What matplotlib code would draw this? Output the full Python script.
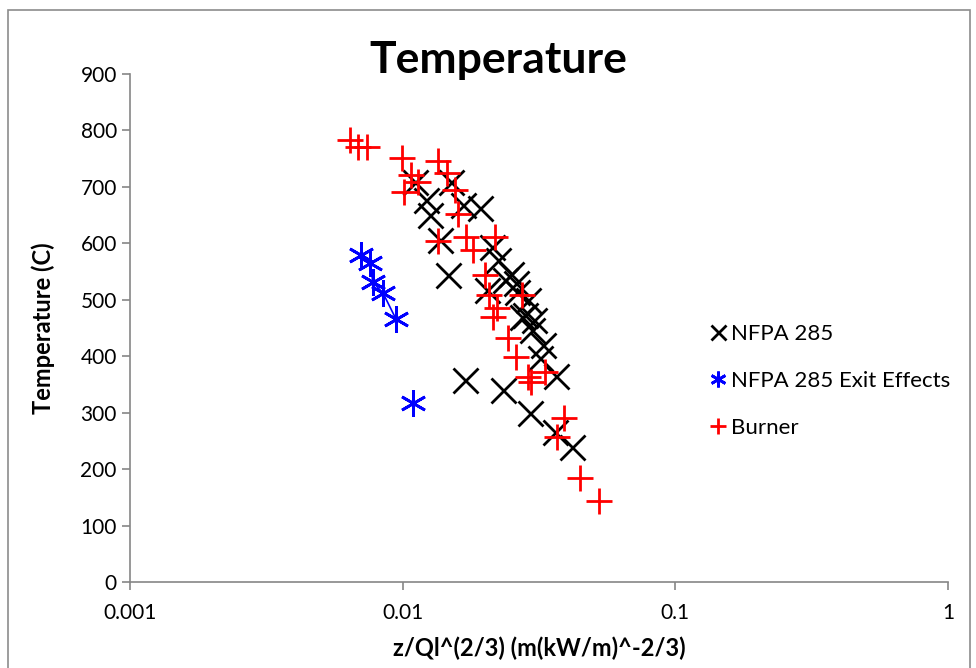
import numpy as np
import matplotlib
matplotlib.use("Agg")
import matplotlib.pyplot as plt
from matplotlib.patches import Rectangle

plt.rcParams['font.family'] = ['Lato', 'DejaVu Sans']

# NFPA 285 (black x)
nfpa_x = [0.0111, 0.0150, 0.0122, 0.0126, 0.0137, 0.0166, 0.0192, 0.0147,
          0.0213, 0.0224, 0.0204, 0.0237, 0.0260, 0.0263, 0.0288, 0.0281,
          0.0303, 0.0298, 0.0327, 0.0319, 0.0169, 0.0233, 0.0293, 0.0365,
          0.0362, 0.0418, 0.0250, 0.0275]
nfpa_y = [709, 709, 677, 650, 606, 668, 662, 544,
          594, 570, 517, 535, 530, 514, 500, 473,
          465, 447, 420, 397, 358, 340, 299, 365,
          266, 239, 545, 470]

# NFPA 285 exit effects (blue asterisk)
exit_x = [0.00703, 0.00759, 0.00778, 0.00847, 0.00945, 0.0109]
exit_y = [579, 565, 531, 512, 466, 317]

# Burner (red plus)
burner_x = [0.00641, 0.00686, 0.00740, 0.00994, 0.01346, 0.01072, 0.01138, 0.01011,
            0.01453, 0.01556, 0.01596, 0.01346, 0.01706, 0.02180, 0.01811, 0.02004,
            0.02072, 0.02737, 0.02218, 0.02143, 0.02432, 0.02602, 0.02879, 0.02954,
            0.03326, 0.03906, 0.03683, 0.04467, 0.05248]
burner_y = [783, 771, 771, 751, 746, 721, 709, 691,
            725, 695, 652, 604, 611, 611, 588, 544,
            508, 508, 485, 470, 432, 399, 363, 354,
            372, 291, 257, 184, 144]

fig = plt.figure(figsize=(9.76, 6.68), dpi=100)
fig.patches.append(Rectangle((8/976, -0.01), 962/976, 1-10/668+0.01, transform=fig.transFigure,
                             fill=False, edgecolor='#8c8c8c', lw=1.2))
ax = fig.add_axes([0.1332, 0.1287, 0.8381, 0.7605])

gray = '#868686'
ax.plot(exit_x[:5], exit_y[:5], color='blue', lw=1.2, zorder=2)
ax.plot(nfpa_x, nfpa_y, ls='none', marker='x', ms=18, mew=2, color='black', label='NFPA 285', zorder=3)
ax.plot(exit_x, exit_y, ls='none', marker=(6, 2, 0), ms=19, mew=2, color='blue',
        label='NFPA 285 Exit Effects', zorder=3)
ax.plot(burner_x, burner_y, ls='none', marker='+', ms=19, mew=2, color='red', label='Burner', zorder=4)

ax.set_xscale('log')
ax.set_xlim(0.001, 1)
ax.set_ylim(0, 900)
ax.set_yticks(range(0, 901, 100))
ax.set_xticks([0.001, 0.01, 0.1, 1])
ax.set_xticklabels(['0.001', '0.01', '0.1', '1'])
ax.minorticks_off()
for s in ['top', 'right']:
    ax.spines[s].set_visible(False)
for s in ['left', 'bottom']:
    ax.spines[s].set_color(gray)
    ax.spines[s].set_linewidth(1.2)
ax.tick_params(axis='both', colors=gray, labelcolor='black', labelsize=15, length=6, width=1.2)
ax.tick_params(axis='x', pad=9)

ax.set_xlabel('z/Ql^(2/3) (m(kW/m)^-2/3)', fontsize=17, fontweight='bold', labelpad=10)
ax.set_ylabel('Temperature (C)', fontsize=17, fontweight='bold', labelpad=18)
fig.text(0.511, 0.91, 'Temperature', ha='center', va='center', fontsize=32, fontweight='bold')

ax.legend(loc='center left', bbox_to_anchor=(0.685, 0.396), frameon=False, fontsize=16,
          markerscale=0.6, handlelength=0.7, handletextpad=0.25, labelspacing=1.2)

fig.savefig('out.png', dpi=100)
